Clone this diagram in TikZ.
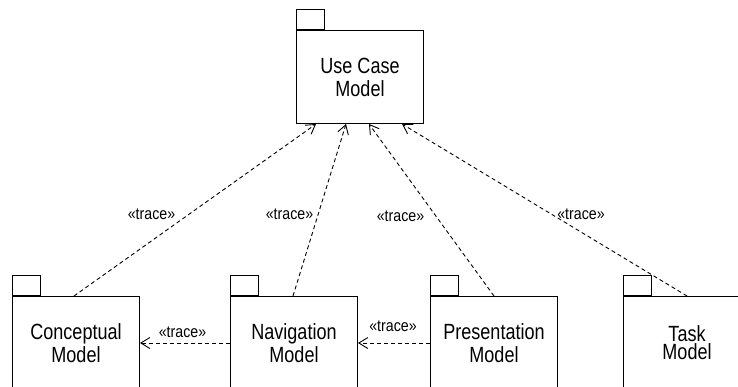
\documentclass[tikz,border=0pt]{standalone}
\usepackage{fontspec}
\setmainfont{Liberation Sans}[FakeStretch=0.82]
\newfontfamily\tracefont{Liberation Sans}[FakeStretch=0.86]
\usetikzlibrary{arrows.meta}

\tikzset{
  pkg/.style={draw, line width=1pt, anchor=north west, minimum width=127pt,
    minimum height=93pt, inner sep=0pt, align=center,
    font=\fontsize{22}{23}\selectfont},
  pkgtab/.style={draw, line width=1pt, anchor=south west, minimum width=28pt,
    minimum height=20pt, inner sep=0pt},
  tracedep/.style={draw, line width=0.9pt, dash pattern=on 4pt off 3pt,
    -{Straight Barb[length=9pt,width=11pt]}},
  stereo/.style={inner sep=0pt, font=\tracefont\fontsize{16.5}{18}\selectfont}
}

\begin{document}
\begin{tikzpicture}[x=1pt,y=-1pt]
  \useasboundingbox (0,0) rectangle (738,387);
  \clip (0,0) rectangle (738,387);

  % packages
  \node[pkg] (uc) at (296,30) {Use Case\\Model};
  \node[pkgtab] (uctab) at (uc.north west) {};

  \node[pkg] (cm) at (12,296) {Conceptual\\Model};
  \node[pkgtab] (cmtab) at (cm.north west) {};

  \node[pkg] (nm) at (230,296) {Navigation\\Model};
  \node[pkgtab] (nmtab) at (nm.north west) {};

  \node[pkg] (pm) at (430,296) {Presentation\\Model};
  \node[pkgtab] (pmtab) at (pm.north west) {};

  \node[pkg, font=\fontsize{22}{18}\selectfont] (tm) at (623,296) {Task\\Model};
  \node[pkgtab] (tmtab) at (tm.north west) {};

  % trace dependencies towards the use case model
  \draw[tracedep] ([xshift=62pt]cm.north west) -- ([xshift=20pt]uc.south west);
  \draw[tracedep] ([xshift=63pt]nm.north west) -- ([xshift=50pt]uc.south west);
  \draw[tracedep] ([xshift=64pt]pm.north west) -- ([xshift=73pt]uc.south west);
  \draw[tracedep] ([xshift=64pt]tm.north west) -- ([xshift=106pt]uc.south west);

  % trace dependencies between the lower packages
  \draw[tracedep] (nm.west) -- (cm.east);
  \draw[tracedep] (pm.west) -- (nm.east);

  % stereotype labels
  \node[stereo] (l1) at (151.5,214) {«trace»};
  \node[stereo] (l2) at (289.5,214) {«trace»};
  \node[stereo] (l3) at (400.5,216) {«trace»};
  \node[stereo] (l4) at (581,214) {«trace»};
  \node[stereo] (l5) at (182.5,332) {«trace»};
  \node[stereo] (l6) at (393,326) {«trace»};
\end{tikzpicture}
\end{document}
